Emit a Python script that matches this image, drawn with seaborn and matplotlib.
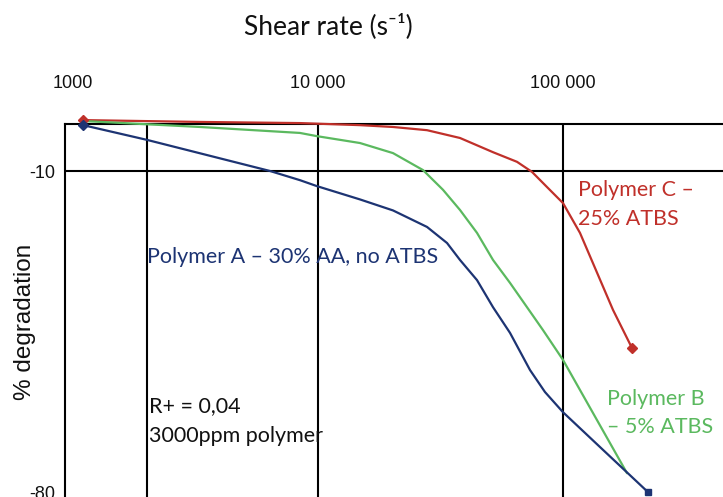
import numpy as np
import pandas as pd
import matplotlib
matplotlib.use("Agg")
import matplotlib.pyplot as plt
import seaborn as sns

# Shear rate (s^-1) and % degradation
shear_a = [1100, 2000, 6370, 8440, 9900, 14840, 20240, 27860, 33620, 37980,
           44570, 51800, 60770, 73330, 84420, 100000, 141600, 222000]
degr_a = [0.0, -3.2, -10.0, -12.0, -13.3, -16.2, -18.6, -22.2, -25.7, -29.4,
          -33.8, -39.7, -45.3, -53.4, -58.2, -62.6, -70.2, -80.0]

shear_b = [1100, 3300, 8440, 9900, 14840, 20240, 26830, 32370, 37980, 44570,
           51800, 60770, 71290, 82870, 100000, 182500]
degr_b = [0.9, -0.4, -1.7, -2.4, -3.9, -6.1, -9.8, -14.1, -18.5, -23.5,
          -29.4, -34.4, -39.7, -44.7, -51.2, -75.9]

shear_c = [1100, 3300, 8440, 14840, 20240, 27860, 37980, 51800, 64910, 74730,
           86040, 100000, 117300, 160000, 191200]
degr_c = [1.1, 0.7, 0.45, 0.0, -0.4, -1.1, -2.8, -5.9, -8.0, -10.2,
          -13.5, -17.0, -23.5, -40.3, -48.6]

x_tick_values = [1000, 10000, 100000]
x_tick_labels = ["1000", "10 000", "100 000"]
y_tick_values = [-10, -80]
y_tick_labels = ["-10", "-80"]
x_grid_values = [2000, 10000, 100000]
y_grid_values = [-10]

NAVY = "#1d3473"
GREEN = "#5bb95f"
RED = "#c0302a"

sns.set_theme(style="white")
plt.rcParams["font.family"] = ["Liberation Sans", "DejaVu Sans"]

fig = plt.figure(figsize=(7.23, 4.97), dpi=100)
W, H = 723, 497
ax = fig.add_axes([65 / W, 0, 1 - 65 / W, 1 - 124 / H])
ax.set_xscale("log")
ax.set_xlim(927.5, 449800)
ax.set_ylim(-81.09, 0.25)

for gx in x_grid_values:
    ax.axvline(gx, color="black", lw=1.5, zorder=1)
for gy in y_grid_values:
    ax.axhline(gy, color="black", lw=1.5, zorder=1)

series = [
    (shear_c, degr_c, RED, "D", "D"),
    (shear_b, degr_b, GREEN, None, None),
    (shear_a, degr_a, NAVY, "D", "s"),
]
for xs, ys, col, m0, m1 in series:
    df = pd.DataFrame({"shear": xs, "degradation": ys})
    sns.lineplot(data=df, x="shear", y="degradation", ax=ax, color=col,
                 lw=1.6, sort=False, estimator=None, zorder=3, clip_on=False)
    if m0:
        ax.plot(xs[0], ys[0], marker=m0, color=col, ms=5, zorder=4, clip_on=False)
    if m1:
        ax.plot(xs[-1], ys[-1], marker=m1, color=col, ms=5, zorder=4, clip_on=False)

ax.set_xlabel("")
ax.set_ylabel("")
ax.xaxis.tick_top()
ax.set_xticks(x_tick_values)
ax.set_xticklabels(x_tick_labels)
ax.xaxis.set_minor_locator(matplotlib.ticker.NullLocator())
ax.set_yticks(y_tick_values)
ax.set_yticklabels(y_tick_labels)
ax.tick_params(axis="x", length=0, pad=23, labelsize=13, colors="#111111")
ax.tick_params(axis="y", length=0, pad=7, labelsize=13, colors="#111111")

for side in ["right", "bottom"]:
    ax.spines[side].set_visible(False)
for side in ["top", "left"]:
    ax.spines[side].set_color("black")
    ax.spines[side].set_linewidth(1.5)

label_font = ["Lato", "DejaVu Sans"]
fig.text(328 / W, 1 - 34 / H, "Shear rate (s\u207b\u00b9)", ha="center", va="baseline",
         fontsize=19, family=label_font, color="#111111")
fig.text(25 / W, 1 - 322 / H, "% degradation", rotation=90, ha="center", va="center",
         fontsize=17.5, color="#111111")

ann = 15.5
fig.text(147 / W, 1 - 263 / H, "Polymer A \u2013 30% AA, no ATBS", ha="left", va="baseline",
         fontsize=ann, family=label_font, color=NAVY)
fig.text(578 / W, 1 - 196 / H, "Polymer C \u2013", ha="left", va="baseline",
         fontsize=ann, family=label_font, color=RED)
fig.text(578 / W, 1 - 225 / H, "25% ATBS", ha="left", va="baseline",
         fontsize=ann, family=label_font, color=RED)
fig.text(607 / W, 1 - 405 / H, "Polymer B", ha="left", va="baseline",
         fontsize=ann, family=label_font, color=GREEN)
fig.text(607 / W, 1 - 433 / H, "\u2013 5% ATBS", ha="left", va="baseline",
         fontsize=ann, family=label_font, color=GREEN)
fig.text(149 / W, 1 - 412 / H, "R+ = 0,04", ha="left", va="baseline",
         fontsize=ann, family=label_font, color="#111111")
fig.text(149 / W, 1 - 442 / H, "3000ppm polymer", ha="left", va="baseline",
         fontsize=ann, family=label_font, color="#111111")

fig.savefig("out.png", dpi=100)
